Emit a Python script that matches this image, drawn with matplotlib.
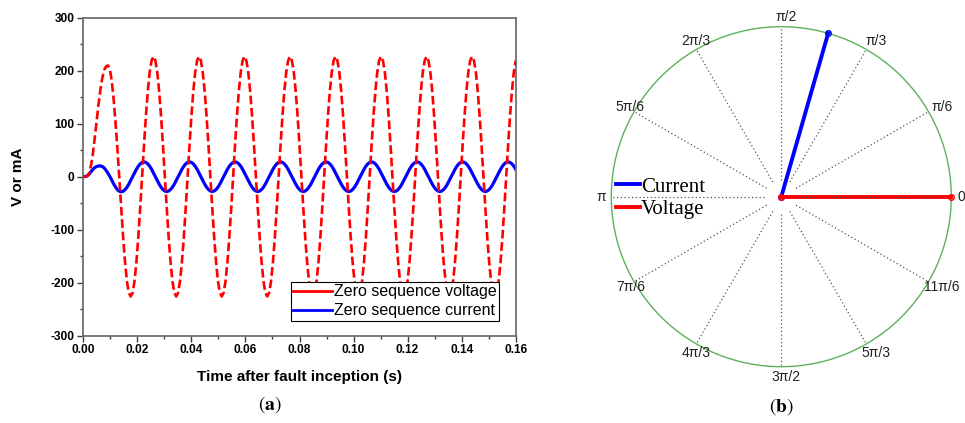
import numpy as np
import matplotlib
matplotlib.use("Agg")
import matplotlib.pyplot as plt
from matplotlib.lines import Line2D
from matplotlib.ticker import FormatStrFormatter, MultipleLocator

plt.rcParams['font.family'] = ['Liberation Sans', 'DejaVu Sans']
plt.rcParams['axes.unicode_minus'] = False
plt.rcParams['mathtext.fontset'] = 'stix'

# ---------------- data (panel a) ----------------
time_end_s = 0.16
x_ticks = [0.00, 0.02, 0.04, 0.06, 0.08, 0.10, 0.12, 0.14, 0.16]
y_ticks = [-300, -200, -100, 0, 100, 200, 300]

# zero sequence voltage (V) at equally spaced instants 0 .. 0.16 s
voltage = [
    0, 0, 1, 6, 20, 42, 72, 104, 136, 164, 186, 201, 208, 210, 203, 181, 146, 102, 52, -2,
    -59, -114, -161, -197, -219, -226, -219, -197, -161, -114, -59, 0, 59, 114, 161, 197, 219,
    227, 219, 197, 161, 114, 59, 0, -59, -114, -161, -197, -219, -226, -219, -197, -161, -114, -59, 0, 59, 114, 161, 197, 219,
    227, 219, 197, 161, 114, 59, 0, -59, -114, -161, -197, -219, -226, -219, -197, -161, -114, -59, 0, 59, 114, 161, 197, 219,
    227, 219, 197, 161, 114, 59, 0, -59, -114, -161, -197, -219, -226, -219, -197, -161, -114, -59, 0, 59, 114, 161, 197, 219,
    227, 219, 197, 161, 114, 59, 0, -59, -114, -161, -197, -219, -226, -219, -197, -161, -114, -59, 0, 59, 114, 161, 197, 219,
    227, 219, 197, 161, 114, 59, 0, -59, -114, -161, -197, -219, -226, -219, -197, -161, -114, -59, 0, 59, 114, 161, 197, 219,
    227, 219, 197, 161, 114, 59, 0, -59, -114, -161, -197, -219, -226, -219, -197, -161, -114, -59, 0, 59, 114, 161, 197, 219,
    227, 219, 197, 161, 114, 59, 0, -59, -114, -161, -197, -219, -226, -219, -197, -161, -114, -59, 0, 59, 114, 161, 197, 219,
    227, 219, 197, 161, 114, 59, 0, -59, -114, -161, -197, -219, -226, -219, -197, -161, -114, -59, 0, 59, 114, 161, 197, 219,
]

# zero sequence current (mA), same instants
current = [
    0, 0.3, 1.5, 4.5, 9, 13.5, 17, 19.2, 20.2, 20.3, 19.3, 16.5, 12, 6.5, 0.5, -6.5, -13.5, -19.5, -24.5, -27.5, -28.5, -27.5, -24.5, -20,
    -14, -7.2, 0, 7.2, 14, 19.8, 24.2, 27,
    28, 27, 24.2, 19.8, 14, 7.2, 0, -7.2, -14, -19.8, -24.2, -27, -28, -27, -24.2, -19.8, -14, -7.2, 0, 7.2, 14, 19.8, 24.2, 27,
    28, 27, 24.2, 19.8, 14, 7.2, 0, -7.2, -14, -19.8, -24.2, -27, -28, -27, -24.2, -19.8, -14, -7.2, 0, 7.2, 14, 19.8, 24.2, 27,
    28, 27, 24.2, 19.8, 14, 7.2, 0, -7.2, -14, -19.8, -24.2, -27, -28, -27, -24.2, -19.8, -14, -7.2, 0, 7.2, 14, 19.8, 24.2, 27,
    28, 27, 24.2, 19.8, 14, 7.2, 0, -7.2, -14, -19.8, -24.2, -27, -28, -27, -24.2, -19.8, -14, -7.2, 0, 7.2, 14, 19.8, 24.2, 27,
    28, 27, 24.2, 19.8, 14, 7.2, 0, -7.2, -14, -19.8, -24.2, -27, -28, -27, -24.2, -19.8, -14, -7.2, 0, 7.2, 14, 19.8, 24.2, 27,
    28, 27, 24.2, 19.8, 14, 7.2, 0, -7.2, -14, -19.8, -24.2, -27, -28, -27, -24.2, -19.8, -14, -7.2, 0, 7.2, 14, 19.8, 24.2, 27,
    28, 27, 24.2, 19.8, 14, 7.2, 0, -7.2, -14, -19.8, -24.2, -27, -28, -27, -24.2, -19.8, -14, -7.2, 0, 7.2, 14, 19.8, 24.2, 27,
    28, 27, 24.2, 19.8, 14, 7.2, 0, -7.2, -14, -19.8, -24.2, -27, -28, -27, -24.2, -19.8, -14, -7.2, 0, 7.2, 14, 19.8, 24.2, 27,
    28, 27, 24.2, 19.8, 14,
]

# ---------------- data (panel b) ----------------
phasor_names = ['Current', 'Voltage']
phasor_angle_deg = [74, 0]
phasor_magnitude = [1.0, 1.0]
phasor_colors = ['#0000ff', '#ff0000']

angle_label_deg = [0, 30, 60, 90, 120, 150, 180, 210, 240, 270, 300, 330]
angle_labels = ['0', 'π/6', 'π/3', 'π/2', '2π/3', '5π/6', 'π', '7π/6', '4π/3', '3π/2', '5π/3', '11π/6']

# ---------------- figure ----------------
W, H = 965, 423
fig = plt.figure(figsize=(W / 100, H / 100), dpi=100)

# panel (a)
L, R, T, B = 83.3, 515.7, 17.7, 335.7
ax = fig.add_axes([L / W, 1 - B / H, (R - L) / W, (B - T) / H])
t = np.linspace(0.0, time_end_s, len(voltage))
ax.plot(t, current, color='#0000ff', lw=2.3, zorder=2)
ax.plot(t, voltage, color='#ff0000', lw=1.9, dashes=(3.3, 1.4), zorder=3)
ax.set_xlim(0, time_end_s)
ax.set_ylim(-300, 300)
ax.set_xticks(x_ticks)
ax.set_yticks(y_ticks)
ax.xaxis.set_minor_locator(MultipleLocator(0.01))
ax.yaxis.set_minor_locator(MultipleLocator(50))
ax.xaxis.set_major_formatter(FormatStrFormatter('%.2f'))
ax.yaxis.set_major_formatter(FormatStrFormatter('%d'))
for sp in ax.spines.values():
    sp.set_color('#707070')
    sp.set_linewidth(1.3)
ax.tick_params(which='major', direction='out', length=4.3, width=1.0, color='#404040',
               labelsize=8.6, pad=2.0)
ax.tick_params(which='minor', direction='out', length=2.3, width=1.0, color='#404040')
ax.tick_params(top=False, right=False, which='both')
for lab in ax.get_xticklabels() + ax.get_yticklabels():
    lab.set_fontweight('bold')
ax.set_xlabel('Time after fault inception (s)', fontsize=11, fontweight='bold')
ax.set_ylabel('V or mA', fontsize=11, fontweight='bold')
ax.xaxis.set_label_coords((300 - L) / (R - L), -0.108)
ax.yaxis.set_label_coords(-0.135, 0.5)

leg_handles = [Line2D([], [], color='#ff0000', lw=2.0), Line2D([], [], color='#0000ff', lw=2.0)]
leg = ax.legend(leg_handles, ['Zero sequence voltage', 'Zero sequence current'],
                loc='upper left', bbox_to_anchor=(290.7 / W, 1 - 282 / H),
                bbox_transform=fig.transFigure, borderaxespad=0, fontsize=11.5,
                handlelength=2.45, handletextpad=0.1, labelspacing=0.25, borderpad=0.15,
                fancybox=False, framealpha=1, edgecolor='black')
leg.get_frame().set_linewidth(0.8)

fig.text(270 / W, 1 - 405 / H, r'$(\mathbf{a})$', ha='center', va='center', fontsize=14)

# panel (b)
cx, cy, rad = 781.3, 196.7, 170.0
pax = fig.add_axes([(cx - rad) / W, (H - cy - rad) / H, 2 * rad / W, 2 * rad / H], projection='polar')
pax.set_ylim(0, 1)
pax.set_xticks([])
pax.set_yticks([])
pax.grid(False)
pax.spines['polar'].set_color('#5cb25c')
pax.spines['polar'].set_linewidth(1.0)
pax.patch.set_alpha(0)

for name, ang, mag, col in zip(phasor_names, phasor_angle_deg, phasor_magnitude, phasor_colors):
    th = np.deg2rad(ang)
    pax.plot([th, th], [0, mag], color=col, lw=2.8, marker='o', ms=4, mfc='none', mew=1.0,
             zorder=3, clip_on=False)

for ang, lbl in zip(angle_label_deg, angle_labels):
    th = np.deg2rad(ang)
    pax.plot([th, th], [0.1, 1.0], color='#555555', lw=0.9, ls=(0, (1, 2)), zorder=5)
    dx = 0 if ang in (0, 180) else 5
    pax.annotate(lbl, xy=(th, 180 / 170), xycoords='data', xytext=(dx, 0),
                 textcoords='offset pixels', ha='center', va='center', fontsize=10,
                 color='#222222', annotation_clip=False)

pleg_handles = [Line2D([], [], color=c, lw=2.8) for c in phasor_colors]
fig.legend(pleg_handles, phasor_names, loc='center left',
           bbox_to_anchor=(616 / W, 1 - 198 / H), bbox_transform=fig.transFigure,
           frameon=False, borderpad=0, borderaxespad=0, handlelength=1.15,
           handletextpad=0.05, labelspacing=0.12,
           prop={'family': 'Liberation Serif', 'size': 15})

fig.text(cx / W, 1 - 407 / H, r'$(\mathbf{b})$', ha='center', va='center', fontsize=14)

fig.savefig('out.png', dpi=100)
